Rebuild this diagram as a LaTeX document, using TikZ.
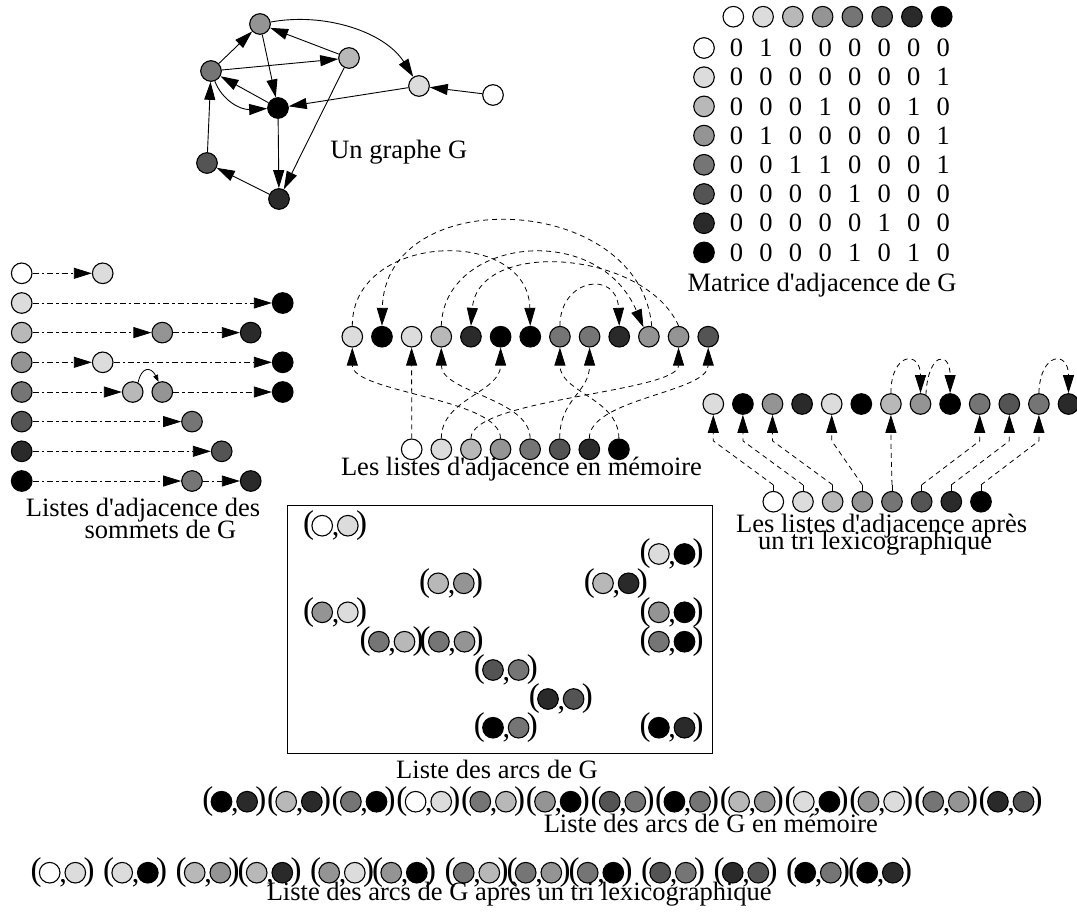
\documentclass[tikz,border=0pt]{standalone}
\usepackage{fontspec}
\setmainfont{Liberation Serif}[Ligatures=TeXOff]
\usetikzlibrary{arrows.meta,calc}
\definecolor{c0}{HTML}{FFFFFF}
\definecolor{c1}{HTML}{DCDCDC}
\definecolor{c2}{HTML}{B8B8B8}
\definecolor{c3}{HTML}{949494}
\definecolor{c4}{HTML}{757575}
\definecolor{c5}{HTML}{545454}
\definecolor{c6}{HTML}{2A2A2A}
\definecolor{c7}{HTML}{000000}
\newcommand\arcpair[5]{%
  \node[vtx,fill=#4] (#1a) at ({#2-12.8},#3) {};
  \node[vtx,fill=#5] (#1b) at ({#2+12.8},#3) {};
  \node[paren] (#1l) at ({#2-26.5},#3) {(};
  \node[paren] (#1r) at ({#2+26.5},#3) {)};
  \node[commach] (#1c) at ({#2+0.5},{#3+10}) {,};
}
\begin{document}
\begin{tikzpicture}[x=1pt,y=-1pt,
  vtx/.style={circle,draw=black,line width=1.1pt,minimum size=20.6pt,inner sep=0pt},
  lbl/.style={font=\fontsize{26.5}{28}\selectfont,inner sep=0pt,anchor=base},
  digit/.style={font=\fontsize{26.5}{28}\selectfont,inner sep=0pt},
  paren/.style={font=\fontsize{33}{35}\selectfont,inner sep=0pt},
  commach/.style={font=\fontsize{30}{32}\selectfont,inner sep=0pt,anchor=base},
  arr/.style={-{Triangle[length=18pt,width=11pt]}},
  garr/.style={arr,line width=0.9pt},
  memdash/.style={arr,dash pattern=on 5pt off 4pt,line width=0.8pt},
  lsdash/.style={arr,dash pattern=on 6pt off 3pt on 2.5pt off 3pt,line width=0.8pt},
]
\useasboundingbox (0,0) rectangle (1077,911);

% ---------------- Graph G
\node[vtx,fill=c0] (g0) at (493,95) {};
\node[vtx,fill=c1] (g1) at (419,86) {};
\node[vtx,fill=c2] (g2) at (349,58) {};
\node[vtx,fill=c3] (g3) at (260,24) {};
\node[vtx,fill=c4] (g4) at (211,71) {};
\node[vtx,fill=c5] (g5) at (207,163) {};
\node[vtx,fill=c6] (g6) at (279,199) {};
\node[vtx,fill=c7] (g7) at (278,108) {};
\foreach \a/\b in {0/1,1/7,2/3,2/6,3/7,4/2,4/3,5/4,6/5,7/4,7/6}
  \draw[garr] (g\a) -- (g\b);
\draw[garr] (g3) .. controls (325,12) and (385,32) .. (g1);
\draw[garr] (g4) .. controls (222,100) and (240,110) .. (g7);
\node[lbl] (tg) at (398.8,158.3) {Un graphe G};

% ---------------- Matrix
\foreach \i in {0,...,7} {
  \node[vtx,fill=c\i] (mh\i) at ({733.3+29.77*\i},16.7) {};
  \node[vtx,fill=c\i] (mr\i) at (704,{48+29.2*\i}) {};
}
\foreach \row [count=\i from 0] in {{0,1,0,0,0,0,0,0},{0,0,0,0,0,0,0,1},{0,0,0,1,0,0,1,0},{0,1,0,0,0,0,0,1},{0,0,1,1,0,0,0,1},{0,0,0,0,1,0,0,0},{0,0,0,0,0,1,0,0},{0,0,0,0,1,0,1,0}} {
  \foreach \v [count=\j from 0] in \row {
    \node[digit] (m\i-\j) at ({736.5+29.55*\j},{48+29.2*\i}) {\v};
  }
}
\node[lbl] (tm) at (822,291) {Matrice d'adjacence de G};

% ---------------- Left adjacency lists
\node[vtx,fill=c0] (L0a) at (21.7,273.3) {};
\node[vtx,fill=c1] (L0b) at (102.7,273.3) {};
\node[vtx,fill=c1] (L1a) at (21.7,303) {};
\node[vtx,fill=c7] (L1b) at (282.7,303) {};
\node[vtx,fill=c2] (L2a) at (21.7,332.6) {};
\node[vtx,fill=c3] (L2b) at (162.3,332.6) {};
\node[vtx,fill=c6] (L2c) at (250.7,332.6) {};
\node[vtx,fill=c3] (L3a) at (21.7,362.3) {};
\node[vtx,fill=c1] (L3b) at (102.7,362.3) {};
\node[vtx,fill=c7] (L3c) at (282.7,362.3) {};
\node[vtx,fill=c4] (L4a) at (21.7,392) {};
\node[vtx,fill=c2] (L4b) at (132.7,392) {};
\node[vtx,fill=c3] (L4c) at (162.3,392) {};
\node[vtx,fill=c7] (L4d) at (282.7,392) {};
\node[vtx,fill=c5] (L5a) at (21.7,421.6) {};
\node[vtx,fill=c4] (L5b) at (192,421.6) {};
\node[vtx,fill=c6] (L6a) at (21.7,451.3) {};
\node[vtx,fill=c5] (L6b) at (221.7,451.3) {};
\node[vtx,fill=c7] (L7a) at (21.7,481) {};
\node[vtx,fill=c4] (L7b) at (192,481) {};
\node[vtx,fill=c6] (L7c) at (250.7,481) {};
\foreach \a/\b in {L0a/L0b,L1a/L1b,L2a/L2b,L2b/L2c,L3a/L3b,L3b/L3c,L4a/L4b,L4c/L4d,L5a/L5b,L6a/L6b,L7a/L7b,L7b/L7c}
  \draw[lsdash] (\a) -- (\b);
\draw[-{Triangle[length=7pt,width=5pt]},line width=0.8pt] (L4b.60) .. controls (141,367) and (151,366) .. (L4c.110);
\node[lbl] (tl1) at (143,516) {Listes d'adjacence des};
\node[lbl] (tl2) at (160.5,538) {sommets de G};

% ---------------- Middle: lists in memory
\foreach \c [count=\i from 0] in {1,7,1,2,6,7,7,4,4,6,3,3,5}
  \node[vtx,fill=c\c] (M\i) at ({352.3+29.66*\i},336.7) {};
\foreach \i in {0,...,7}
  \node[vtx,fill=c\i] (H\i) at ({411.7+29.6*\i},449.3) {};
\foreach \h/\m in {0/2,1/5,2/11,3/0,4/3,5/8,6/12,7/7}
  \draw[memdash] (H\h.north) .. controls +(0,-40) and +(0,45) .. (M\m.south);
\draw[memdash] (M0.north) .. controls (352,232) and (528,226) .. (M6.north);
\draw[memdash] (M10.75) .. controls (640,192) and (385,182) .. (M1.north);
\draw[memdash] (M3.north) .. controls (444,238) and (598,220) .. (M10.120);
\draw[memdash] (M11.north) .. controls (645,250) and (478,238) .. (M4.north);
\draw[memdash] (M7.north) .. controls (560,278) and (617,270) .. (M9.north);
\node[lbl] (tmem) at (521.5,475) {Les listes d'adjacence en mémoire};

% ---------------- Right: lists after lexicographic sort
\foreach \c [count=\i from 0] in {1,7,3,6,1,7,2,3,7,4,5,4,6}
  \node[vtx,fill=c\c] (R\i) at ({713.3+29.6*\i},404) {};
\foreach \i in {0,...,7}
  \node[vtx,fill=c\i] (RH\i) at ({773.3+29.67*\i},501.7) {};
\foreach \h/\m in {0/0,1/1,2/2,3/4,4/6,5/9,6/10,7/11} {
  \draw[line width=0.8pt] (RH\h.north) -- ++(0,-6) coordinate (rt\h);
  \draw[memdash] (rt\h) -- ($(R\m.south)+(0,26)$) -- (R\m.south);
}
\draw[memdash] (R6.north) .. controls (891,352) and (920.5,350) .. (R7.north);
\draw[memdash] (R7.60) .. controls (928,352) and (950.1,350) .. (R8.north);
\draw[memdash] (R11.north) .. controls (1040,352) and (1068.5,350) .. (R12.north);
\node[lbl] (tr1) at (881.7,532.5) {Les listes d'adjacence après};
\node[lbl] (tr2) at (875,549.3) {un tri lexicographique};

% ---------------- Box: list of arcs
\draw[line width=1pt] (287.5,505) rectangle (712.5,753);
\arcpair{b01}{335}{525.7}{c0}{c1}
\arcpair{b17}{671.7}{554}{c1}{c7}
\arcpair{b23}{451}{583.3}{c2}{c3}
\arcpair{b26}{615.8}{583.3}{c2}{c6}
\arcpair{b31}{335}{612.3}{c3}{c1}
\arcpair{b37}{671.7}{612.3}{c3}{c7}
\arcpair{b42}{391.7}{641.7}{c4}{c2}
\arcpair{b43}{451.7}{641.7}{c4}{c3}
\arcpair{b47}{671.7}{641.7}{c4}{c7}
\arcpair{b54}{505.8}{670}{c5}{c4}
\arcpair{b65}{560.8}{699}{c6}{c5}
\arcpair{b74}{505.8}{727.7}{c7}{c4}
\arcpair{b76}{671.7}{727.7}{c7}{c6}
\node[lbl] (tbox) at (497,778) {Liste des arcs de G};

% ---------------- Arcs in memory
\foreach \a/\b [count=\k from 0] in {7/6,2/6,4/7,0/1,4/2,3/7,5/4,7/4,2/3,1/7,3/1,4/3,6/5} {
  \arcpair{u\k}{234.3+64.7*\k}{801.7}{c\a}{c\b}
}
\node[lbl] (tu) at (710.8,832.5) {Liste des arcs de G en mémoire};

% ---------------- Arcs after sort
\foreach \a/\b/\x [count=\k from 0] in {0/1/62.5,1/7/135,2/3/207.5,2/6/269.5,3/1/342,3/7/404,4/2/476.5,4/3/538.5,4/7/600.5,5/4/673,6/5/745.5,7/4/818,7/6/880} {
  \arcpair{s\k}{\x}{872.7}{c\a}{c\b}
}
\node[lbl] (ts) at (519.2,900) {Liste des arcs de G après un tri lexicographique};
\end{tikzpicture}
\end{document}
